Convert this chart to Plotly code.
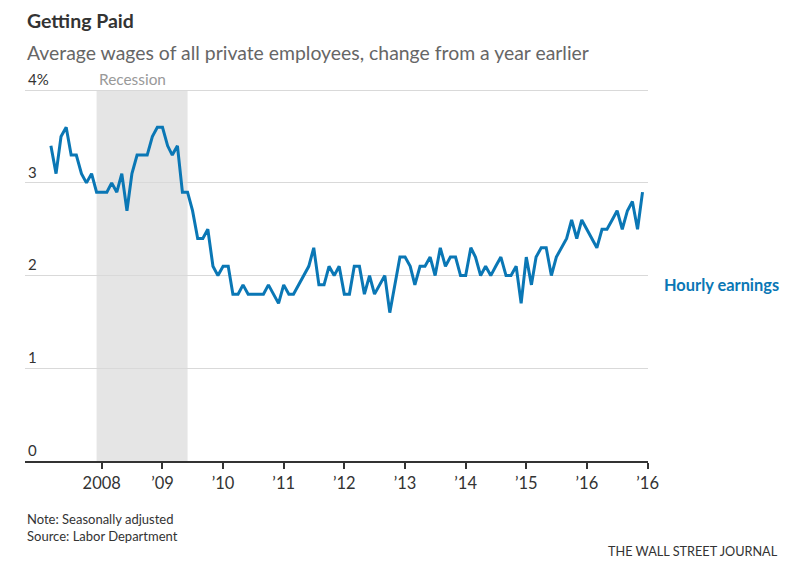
import plotly.graph_objects as go

# Year-over-year change in average hourly earnings, monthly (percent)
years = [2007, 2008, 2009, 2010, 2011, 2012, 2013, 2014, 2015, 2016]
first_month = {2007: 3}  # series starts in March 2007
wages_2007 = [3.4, 3.1, 3.5, 3.6, 3.3, 3.3, 3.1, 3.0, 3.1, 2.9]
wages_2008 = [2.9, 2.9, 3.0, 2.9, 3.1, 2.7, 3.1, 3.3, 3.3, 3.3, 3.5, 3.6]
wages_2009 = [3.6, 3.4, 3.3, 3.4, 2.9, 2.9, 2.7, 2.4, 2.4, 2.5, 2.1, 2.0]
wages_2010 = [2.1, 2.1, 1.8, 1.8, 1.9, 1.8, 1.8, 1.8, 1.8, 1.9, 1.8, 1.7]
wages_2011 = [1.9, 1.8, 1.8, 1.9, 2.0, 2.1, 2.3, 1.9, 1.9, 2.1, 2.0, 2.1]
wages_2012 = [1.8, 1.8, 2.1, 2.1, 1.8, 2.0, 1.8, 1.9, 2.0, 1.6, 1.9, 2.2]
wages_2013 = [2.2, 2.1, 1.9, 2.1, 2.1, 2.2, 2.0, 2.3, 2.1, 2.2, 2.2, 2.0]
wages_2014 = [2.0, 2.3, 2.2, 2.0, 2.1, 2.0, 2.1, 2.2, 2.0, 2.0, 2.1, 1.7]
wages_2015 = [2.2, 1.9, 2.2, 2.3, 2.3, 2.0, 2.2, 2.3, 2.4, 2.6, 2.4, 2.6]
wages_2016 = [2.5, 2.4, 2.3, 2.5, 2.5, 2.6, 2.7, 2.5, 2.7, 2.8, 2.5, 2.9]
by_year = [wages_2007, wages_2008, wages_2009, wages_2010, wages_2011,
           wages_2012, wages_2013, wages_2014, wages_2015, wages_2016]

tick_dates = ["2008-01-01", "2009-01-01", "2010-01-01", "2011-01-01", "2012-01-01",
              "2013-01-01", "2014-01-01", "2015-01-01", "2016-01-01", "2017-01-01"]
tick_labels = ["2008", "’09", "’10", "’11", "’12", "’13", "’14", "’15", "’16", "’16"]
y_ticks = [0, 1, 2, 3, 4]
y_labels = ["0", "1", "2", "3", "4%"]
recession = ("2007-12-01", "2009-06-01")

dates, values = [], []
for yr, vals in zip(years, by_year):
    start = first_month.get(yr, 1)
    for i, v in enumerate(vals):
        dates.append(f"{yr}-{start + i:02d}-01")
        values.append(v)

BLUE = "#0a77b5"
FONT = "Lato"

fig = go.Figure()
fig.add_trace(go.Scatter(
    x=dates, y=values, mode="lines",
    line=dict(color=BLUE, width=3), hoverinfo="skip", showlegend=False,
))

# recession band, up to the 4% line
fig.add_shape(type="rect", xref="x", yref="y",
              x0=recession[0], x1=recession[1], y0=0, y1=4,
              fillcolor="#e5e5e5", line_width=0, layer="below")

# margins account for the page's default 8px body offset
fig.update_layout(
    width=800, height=568,
    margin=dict(l=17, r=160, t=59, b=115),
    paper_bgcolor="white", plot_bgcolor="white",
    font=dict(family=FONT, color="#333", size=15),
    xaxis=dict(
        type="date", range=["2006-09-26", "2017-01-03"], automargin=False,
        tickvals=tick_dates, ticktext=tick_labels,
        showgrid=False, showline=True, linecolor="#333", linewidth=1.5,
        ticks="outside", ticklen=6, tickcolor="#333", tickwidth=1.5,
        tickfont=dict(size=16.5, color="#333"),
    ),
    yaxis=dict(
        range=[0, 4.25], tickvals=y_ticks, ticktext=y_labels, automargin=False,
        showgrid=True, gridcolor="#d9d9d9", gridwidth=1,
        zeroline=False, showline=False,
        ticklabelposition="inside top",
        tickfont=dict(size=15, color="#333"),
    ),
    annotations=[
        dict(text="<b>Getting Paid</b>", xref="paper", yref="paper",
             x=0, y=1.119, xanchor="left", yanchor="middle",
             showarrow=False, font=dict(size=19.5, color="#333")),
        dict(text="Average wages of all private employees, change from a year earlier",
             xref="paper", yref="paper", x=0, y=1.037, xanchor="left",
             yanchor="middle", showarrow=False, font=dict(size=19.4, color="#666")),
        dict(text="Recession", xref="x", yref="y", x=recession[0], y=4,
             xanchor="left", yanchor="bottom", showarrow=False,
             font=dict(size=15.4, color="#999")),
        dict(text="<b>Hourly earnings</b>", xref="paper", yref="paper",
             x=1.0225, y=0.449, xanchor="left", yanchor="middle",
             showarrow=False, font=dict(size=16.4, color=BLUE)),
        dict(text="Note: Seasonally adjusted<br>Source: Labor Department",
             xref="paper", yref="paper", x=0, y=-0.122, xanchor="left",
             yanchor="top", align="left", showarrow=False,
             font=dict(size=13, color="#333")),
        dict(text="THE WALL STREET JOURNAL", xref="paper", yref="paper",
             x=1.212, y=-0.228, xanchor="right", yanchor="middle",
             showarrow=False, font=dict(size=12.7, color="#333")),
    ],
)

fig.write_html("out.html")
